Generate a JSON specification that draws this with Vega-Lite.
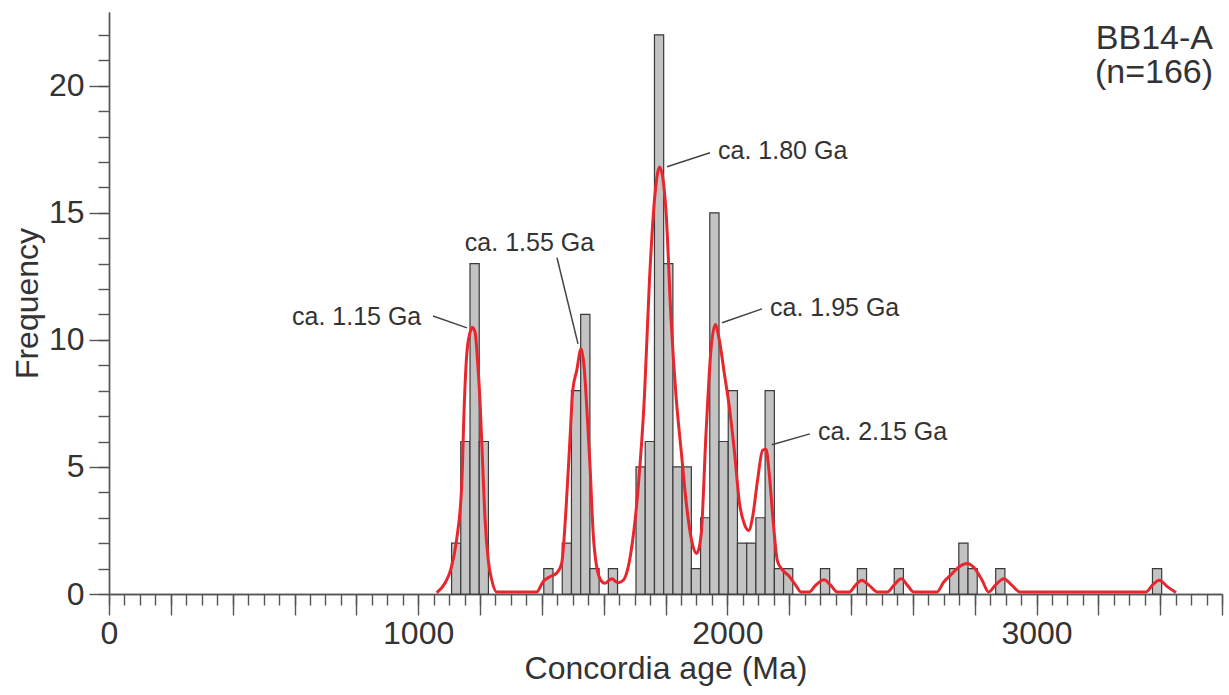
{
  "$schema": "https://vega.github.io/schema/vega-lite/v6.json",
  "width": 1113,
  "height": 582,
  "autosize": "none",
  "padding": {"left": 109, "top": 12, "right": 7, "bottom": 101},
  "background": "white",
  "config": {
    "view": {"stroke": null},
    "font": "Liberation Sans",
    "axis": {
      "grid": false,
      "domainColor": "#555555",
      "domainWidth": 1.4,
      "tickColor": "#555555",
      "tickWidth": 1.4,
      "labelColor": "#333333",
      "titleColor": "#333333",
      "labelFont": "Liberation Sans",
      "titleFont": "Liberation Sans",
      "labelFontSize": 32,
      "titleFontSize": 32,
      "titleFontWeight": "normal",
      "labelOverlap": false,
      "labelFlush": false,
      "labelBound": false
    }
  },
  "resolve": {"axis": {"x": "independent", "y": "independent"}},
  "datasets": {
    "bins": [
      {"start": 1108.0, "end": 1137.8, "count": 2},
      {"start": 1137.8, "end": 1167.7, "count": 6},
      {"start": 1167.7, "end": 1197.5, "count": 13},
      {"start": 1197.5, "end": 1227.3, "count": 6},
      {"start": 1406.3, "end": 1436.1, "count": 1},
      {"start": 1466.0, "end": 1495.8, "count": 2},
      {"start": 1495.8, "end": 1525.6, "count": 8},
      {"start": 1525.6, "end": 1555.5, "count": 11},
      {"start": 1555.5, "end": 1585.3, "count": 1},
      {"start": 1615.1, "end": 1644.9, "count": 1},
      {"start": 1704.6, "end": 1734.4, "count": 5},
      {"start": 1734.4, "end": 1764.3, "count": 6},
      {"start": 1764.3, "end": 1794.1, "count": 22},
      {"start": 1794.1, "end": 1823.9, "count": 13},
      {"start": 1823.9, "end": 1853.8, "count": 5},
      {"start": 1853.8, "end": 1883.6, "count": 5},
      {"start": 1883.6, "end": 1913.4, "count": 1},
      {"start": 1913.4, "end": 1943.2, "count": 3},
      {"start": 1943.2, "end": 1973.1, "count": 15},
      {"start": 1973.1, "end": 2002.9, "count": 6},
      {"start": 2002.9, "end": 2032.7, "count": 8},
      {"start": 2032.7, "end": 2062.6, "count": 2},
      {"start": 2062.6, "end": 2092.4, "count": 2},
      {"start": 2092.4, "end": 2122.2, "count": 3},
      {"start": 2122.2, "end": 2152.1, "count": 8},
      {"start": 2152.1, "end": 2181.9, "count": 1},
      {"start": 2181.9, "end": 2211.7, "count": 1},
      {"start": 2301.2, "end": 2331.0, "count": 1},
      {"start": 2420.5, "end": 2450.3, "count": 1},
      {"start": 2539.8, "end": 2569.6, "count": 1},
      {"start": 2718.8, "end": 2748.7, "count": 1},
      {"start": 2748.7, "end": 2778.5, "count": 2},
      {"start": 2778.5, "end": 2808.3, "count": 1},
      {"start": 2868.0, "end": 2897.8, "count": 1},
      {"start": 3375.1, "end": 3404.9, "count": 1}
    ],
    "kde": [
      {"age": 1060, "density": 0.05},
      {"age": 1087, "density": 0.43},
      {"age": 1105, "density": 0.95},
      {"age": 1124, "density": 2.1},
      {"age": 1141, "density": 4.3},
      {"age": 1149, "density": 7.4},
      {"age": 1157, "density": 9.4},
      {"age": 1168, "density": 10.3},
      {"age": 1175, "density": 10.5},
      {"age": 1184, "density": 10.3},
      {"age": 1192, "density": 9.2},
      {"age": 1200, "density": 7.6},
      {"age": 1209, "density": 5.0},
      {"age": 1216, "density": 3.0},
      {"age": 1227, "density": 1.3},
      {"age": 1238, "density": 0.55},
      {"age": 1254, "density": 0.08},
      {"age": 1383, "density": 0.08},
      {"age": 1405, "density": 0.5},
      {"age": 1426, "density": 0.68},
      {"age": 1448, "density": 0.82},
      {"age": 1464, "density": 1.2},
      {"age": 1480, "density": 3.7},
      {"age": 1491, "density": 6.1},
      {"age": 1500, "density": 8.0},
      {"age": 1513, "density": 8.8},
      {"age": 1527, "density": 9.65},
      {"age": 1537, "density": 8.9},
      {"age": 1547, "density": 7.0},
      {"age": 1556, "density": 5.0},
      {"age": 1566, "density": 2.4},
      {"age": 1577, "density": 1.1},
      {"age": 1593, "density": 0.5},
      {"age": 1604, "density": 0.42},
      {"age": 1626, "density": 0.6},
      {"age": 1647, "density": 0.44},
      {"age": 1664, "density": 0.55},
      {"age": 1689, "density": 1.7},
      {"age": 1711, "density": 4.1},
      {"age": 1732, "density": 7.8},
      {"age": 1748, "density": 12.3},
      {"age": 1765, "density": 15.6},
      {"age": 1781, "density": 16.8},
      {"age": 1791, "density": 16.4},
      {"age": 1802, "density": 15.0},
      {"age": 1818, "density": 10.8},
      {"age": 1834, "density": 7.8},
      {"age": 1851, "density": 5.6},
      {"age": 1867, "density": 3.6},
      {"age": 1883, "density": 2.2},
      {"age": 1901, "density": 1.6},
      {"age": 1915, "density": 2.3},
      {"age": 1931, "density": 6.3},
      {"age": 1947, "density": 9.6},
      {"age": 1961, "density": 10.6},
      {"age": 1974, "density": 10.0},
      {"age": 1990, "density": 8.7},
      {"age": 2006, "density": 7.4},
      {"age": 2023, "density": 5.6},
      {"age": 2039, "density": 3.6},
      {"age": 2055, "density": 2.75},
      {"age": 2069, "density": 2.5},
      {"age": 2082, "density": 3.05},
      {"age": 2098, "density": 4.5},
      {"age": 2114, "density": 5.65},
      {"age": 2125, "density": 5.7},
      {"age": 2135, "density": 4.8},
      {"age": 2148, "density": 2.9},
      {"age": 2162, "density": 1.3},
      {"age": 2175, "density": 1.0},
      {"age": 2200, "density": 0.7},
      {"age": 2221, "density": 0.35},
      {"age": 2238, "density": 0.08},
      {"age": 2265, "density": 0.08},
      {"age": 2286, "density": 0.35},
      {"age": 2313, "density": 0.56},
      {"age": 2334, "density": 0.35},
      {"age": 2356, "density": 0.08},
      {"age": 2394, "density": 0.08},
      {"age": 2415, "density": 0.35},
      {"age": 2434, "density": 0.54},
      {"age": 2458, "density": 0.35},
      {"age": 2485, "density": 0.08},
      {"age": 2517, "density": 0.08},
      {"age": 2539, "density": 0.35},
      {"age": 2563, "density": 0.6},
      {"age": 2582, "density": 0.35},
      {"age": 2603, "density": 0.08},
      {"age": 2678, "density": 0.08},
      {"age": 2700, "density": 0.47},
      {"age": 2727, "density": 0.8},
      {"age": 2748, "density": 1.05},
      {"age": 2775, "density": 1.2},
      {"age": 2797, "density": 1.05},
      {"age": 2824, "density": 0.54},
      {"age": 2845, "density": 0.08},
      {"age": 2867, "density": 0.35},
      {"age": 2894, "density": 0.6},
      {"age": 2920, "density": 0.35},
      {"age": 2947, "density": 0.08},
      {"age": 3354, "density": 0.08},
      {"age": 3375, "density": 0.35},
      {"age": 3397, "density": 0.54},
      {"age": 3424, "density": 0.28},
      {"age": 3451, "density": 0.06}
    ],
    "leaders": [
      {"ax": 1048, "ay": 10.94, "bx": 1158, "by": 10.47},
      {"ax": 1449, "ay": 13.23, "bx": 1517, "by": 9.84},
      {"ax": 1944, "ay": 17.36, "bx": 1805, "by": 16.81},
      {"ax": 2112, "ay": 11.22, "bx": 1983, "by": 10.67},
      {"ax": 2267, "ay": 6.30, "bx": 2144, "by": 5.87}
    ],
    "labels": [
      {"age": 592, "freq": 10.6, "label": "ca. 1.15 Ga"},
      {"age": 1151, "freq": 13.5, "label": "ca. 1.55 Ga"},
      {"age": 1970, "freq": 17.1, "label": "ca. 1.80 Ga"},
      {"age": 2138, "freq": 10.95, "label": "ca. 1.95 Ga"},
      {"age": 2293, "freq": 6.05, "label": "ca. 2.15 Ga"}
    ],
    "sample": [
      {"age": 3571, "freq": 21.45, "label": "BB14-A"},
      {"age": 3571, "freq": 20.1, "label": "(n=166)"}
    ]
  },
  "layer": [
    {
      "data": {"name": "bins"},
      "mark": {"type": "rect", "fill": "#c3c3c3", "stroke": "#3a3a3a", "strokeWidth": 1.2},
      "encoding": {
        "x": {
          "field": "start",
          "type": "quantitative",
          "scale": {"domain": [0, 3600], "nice": false, "zero": false},
          "axis": {
            "orient": "bottom",
            "title": null,
            "values": [0,50,100,150,200,250,300,350,400,450,500,550,600,650,700,750,800,850,900,950,1000,1050,1100,1150,1200,1250,1300,1350,1400,1450,1500,1550,1600,1650,1700,1750,1800,1850,1900,1950,2000,2050,2100,2150,2200,2250,2300,2350,2400,2450,2500,2550,2600,2650,2700,2750,2800,2850,2900,2950,3000,3050,3100,3150,3200,3250,3300,3350,3400,3450,3500,3550,3600],
            "labels": false,
            "tickSize": 11
          }
        },
        "x2": {"field": "end"},
        "y": {
          "field": "count",
          "type": "quantitative",
          "scale": {"domain": [0, 22.9], "nice": false},
          "axis": {
            "orient": "left",
            "title": null,
            "values": [0,1,2,3,4,5,6,7,8,9,10,11,12,13,14,15,16,17,18,19,20,21,22],
            "labels": false,
            "tickSize": 11
          }
        },
        "y2": {"datum": 0}
      }
    },
    {
      "data": {"name": "kde"},
      "mark": {"type": "line", "color": "#e8262d", "strokeWidth": 3, "interpolate": "monotone"},
      "encoding": {
        "x": {
          "field": "age",
          "type": "quantitative",
          "axis": {
            "orient": "bottom",
            "title": "Concordia age (Ma)",
            "values": [0,200,400,600,800,1000,1200,1400,1600,1800,2000,2200,2400,2600,2800,3000,3200,3400,3600],
            "format": "d",
            "labelExpr": "datum.value % 1000 === 0 ? datum.label : ''",
            "tickSize": 21,
            "labelPadding": 3,
            "titlePadding": 4
          }
        },
        "y": {
          "field": "density",
          "type": "quantitative",
          "axis": {
            "orient": "left",
            "title": "Frequency",
            "values": [0,5,10,15,20],
            "format": "d",
            "tickSize": 20,
            "labelPadding": 5,
            "titlePadding": 4
          }
        }
      }
    },
    {
      "data": {"name": "leaders"},
      "mark": {"type": "rule", "color": "#444444", "strokeWidth": 1.5},
      "encoding": {
        "x": {"field": "ax", "type": "quantitative", "axis": null},
        "y": {"field": "ay", "type": "quantitative", "axis": null},
        "x2": {"field": "bx"},
        "y2": {"field": "by"}
      }
    },
    {
      "data": {"name": "labels"},
      "mark": {"type": "text", "fontSize": 25, "color": "#333333", "align": "left", "baseline": "alphabetic", "font": "Liberation Sans"},
      "encoding": {
        "x": {"field": "age", "type": "quantitative", "axis": null},
        "y": {"field": "freq", "type": "quantitative", "axis": null},
        "text": {"field": "label"}
      }
    },
    {
      "data": {"name": "sample"},
      "mark": {"type": "text", "fontSize": 34, "color": "#333333", "align": "right", "baseline": "alphabetic", "font": "Liberation Sans"},
      "encoding": {
        "x": {"field": "age", "type": "quantitative", "axis": null},
        "y": {"field": "freq", "type": "quantitative", "axis": null},
        "text": {"field": "label"}
      }
    }
  ]
}
